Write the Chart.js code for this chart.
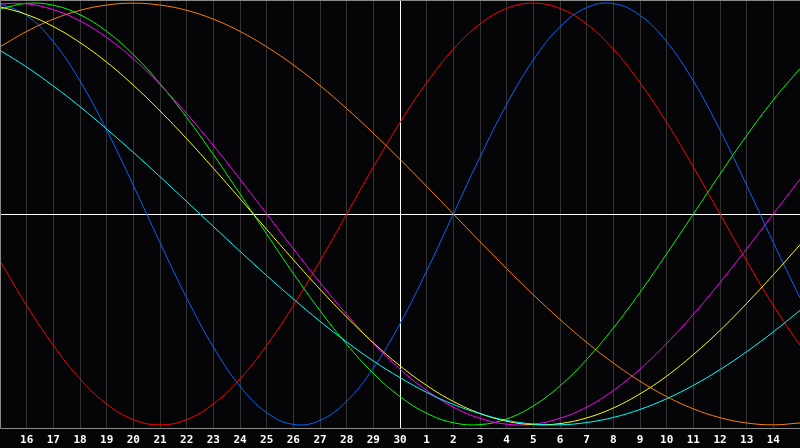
<!DOCTYPE html>
<html>
<head>
<meta charset="utf-8">
<script src="https://cdn.jsdelivr.net/npm/chart.js@4"></script>
<style>
  html, body { margin: 0; padding: 0; background: #050508; }
  canvas { display: block; }
</style>
</head>
<body>
<canvas id="bio-chart" width="800" height="448"></canvas>
<script>
// day labels, 15th to 15th (first and last are not shown)
const days = ['15','16','17','18','19','20','21','22','23','24','25','26','27','28','29','30',
              '1','2','3','4','5','6','7','8','9','10','11','12','13','14','15'];

// cycle values, -1..1
const physical = [0.998,0.942,0.817,0.631,0.398,0.136,-0.136,-0.398,-0.631,-0.817,-0.942,-0.998,-0.979,-0.888,-0.731,-0.520,
                  -0.270,0,0.270,0.520,0.731,0.888,0.979,0.998,0.942,0.817,0.631,0.398,0.136,-0.136,-0.398];
const emotional = [-0.223,-0.434,-0.623,-0.782,-0.901,-0.975,-1,-0.975,-0.901,-0.782,-0.623,-0.434,-0.223,0,0.223,0.434,
                   0.623,0.782,0.901,0.975,1,0.975,0.901,0.782,0.623,0.434,0.223,0,-0.223,-0.434,-0.623];
const intellectual = [0.972,0.999,0.990,0.945,0.866,0.756,0.618,0.458,0.282,0.095,-0.095,-0.282,-0.458,-0.618,-0.756,-0.866,
                      -0.945,-0.990,-0.999,-0.972,-0.910,-0.815,-0.690,-0.541,-0.372,-0.189,0,0.189,0.372,0.541,0.690];
const intuitive = [0.997,0.997,0.969,0.916,0.837,0.736,0.614,0.476,0.325,0.165,0,-0.165,-0.325,-0.476,-0.614,-0.736,
                   -0.837,-0.916,-0.969,-0.997,-0.997,-0.969,-0.916,-0.837,-0.736,-0.614,-0.476,-0.325,-0.165,0,0.165];
const aesthetic = [0.983,0.946,0.889,0.813,0.720,0.611,0.489,0.357,0.217,0.073,-0.073,-0.217,-0.357,-0.489,-0.611,-0.720,
                   -0.813,-0.889,-0.946,-0.983,-0.999,-0.994,-0.967,-0.920,-0.853,-0.769,-0.667,-0.552,-0.424,-0.288,-0.146];
const awareness = [0.793,0.866,0.924,0.966,0.991,1,0.991,0.966,0.924,0.866,0.793,0.707,0.609,0.5,0.383,0.259,
                   0.131,0,-0.131,-0.259,-0.383,-0.5,-0.609,-0.707,-0.793,-0.866,-0.924,-0.966,-0.991,-1,-0.991];
const spiritual = [0.776,0.697,0.607,0.509,0.403,0.292,0.177,0.059,-0.059,-0.177,-0.292,-0.403,-0.509,-0.607,-0.697,-0.776,
                   -0.846,-0.903,-0.947,-0.979,-0.996,-1,-0.989,-0.965,-0.927,-0.876,-0.813,-0.738,-0.653,-0.559,-0.457];

const todayIndex = 15;

function cycle(label, values, color) {
    return {
        label: label,
        data: values,
        borderColor: color,
        borderWidth: 1,
        pointRadius: 0,
        fill: false,
        tension: 0.4
    };
}

// grey frame on the left, top and bottom of the plot
const framePlugin = {
    id: 'frame',
    afterDraw(chart) {
        const a = chart.chartArea;
        const ctx = chart.ctx;
        ctx.save();
        ctx.strokeStyle = '#8a8a8a';
        ctx.lineWidth = 1;
        ctx.beginPath();
        ctx.moveTo(a.right, a.top + 0.5);
        ctx.lineTo(a.left + 0.5, a.top + 0.5);
        ctx.lineTo(a.left + 0.5, a.bottom + 0.5);
        ctx.lineTo(a.right, a.bottom + 0.5);
        ctx.stroke();
        ctx.restore();
    }
};

const ctx = document.getElementById('bio-chart').getContext('2d');
new Chart(ctx, {
    type: 'line',
    data: {
        labels: days,
        datasets: [
            cycle('Spiritual', spiritual, '#00ffff'),
            cycle('Aesthetic', aesthetic, '#ffff00'),
            cycle('Intuitive', intuitive, '#ff00ff'),
            cycle('Intellectual', intellectual, '#00ff00'),
            cycle('Awareness', awareness, '#ff8000'),
            cycle('Physical', physical, '#0066ff'),
            cycle('Emotional', emotional, '#ff0000')
        ]
    },
    options: {
        responsive: false,
        devicePixelRatio: 1,
        animation: false,
        layout: { padding: 0, autoPadding: false },
        plugins: {
            legend: { display: false },
            tooltip: { enabled: false }
        },
        scales: {
            x: {
                offset: false,
                afterFit(scale) {
                    scale.height = 20;
                    scale.paddingLeft = 0;
                    scale.paddingRight = 0;
                },
                grid: {
                    drawTicks: false,
                    color: (c) => c.index === todayIndex ? '#ffffff' : '#333333',
                    lineWidth: 1
                },
                border: { display: false },
                ticks: {
                    autoSkip: false,
                    maxRotation: 0,
                    padding: 6,
                    color: '#ffffff',
                    font: { family: 'DejaVu Sans Mono', size: 11, weight: 'bold' },
                    callback: function (value, index) {
                        return (index === 0 || index === days.length - 1) ? '' : days[index];
                    }
                }
            },
            y: {
                min: -1.015,
                max: 1.015,
                afterFit(scale) { scale.width = 0; },
                afterBuildTicks(scale) { scale.ticks = [{ value: 0 }]; },
                grid: {
                    drawTicks: false,
                    color: '#ffffff',
                    lineWidth: 1
                },
                border: { display: false },
                ticks: { display: false }
            }
        }
    },
    plugins: [framePlugin]
});
</script>
</body>
</html>
